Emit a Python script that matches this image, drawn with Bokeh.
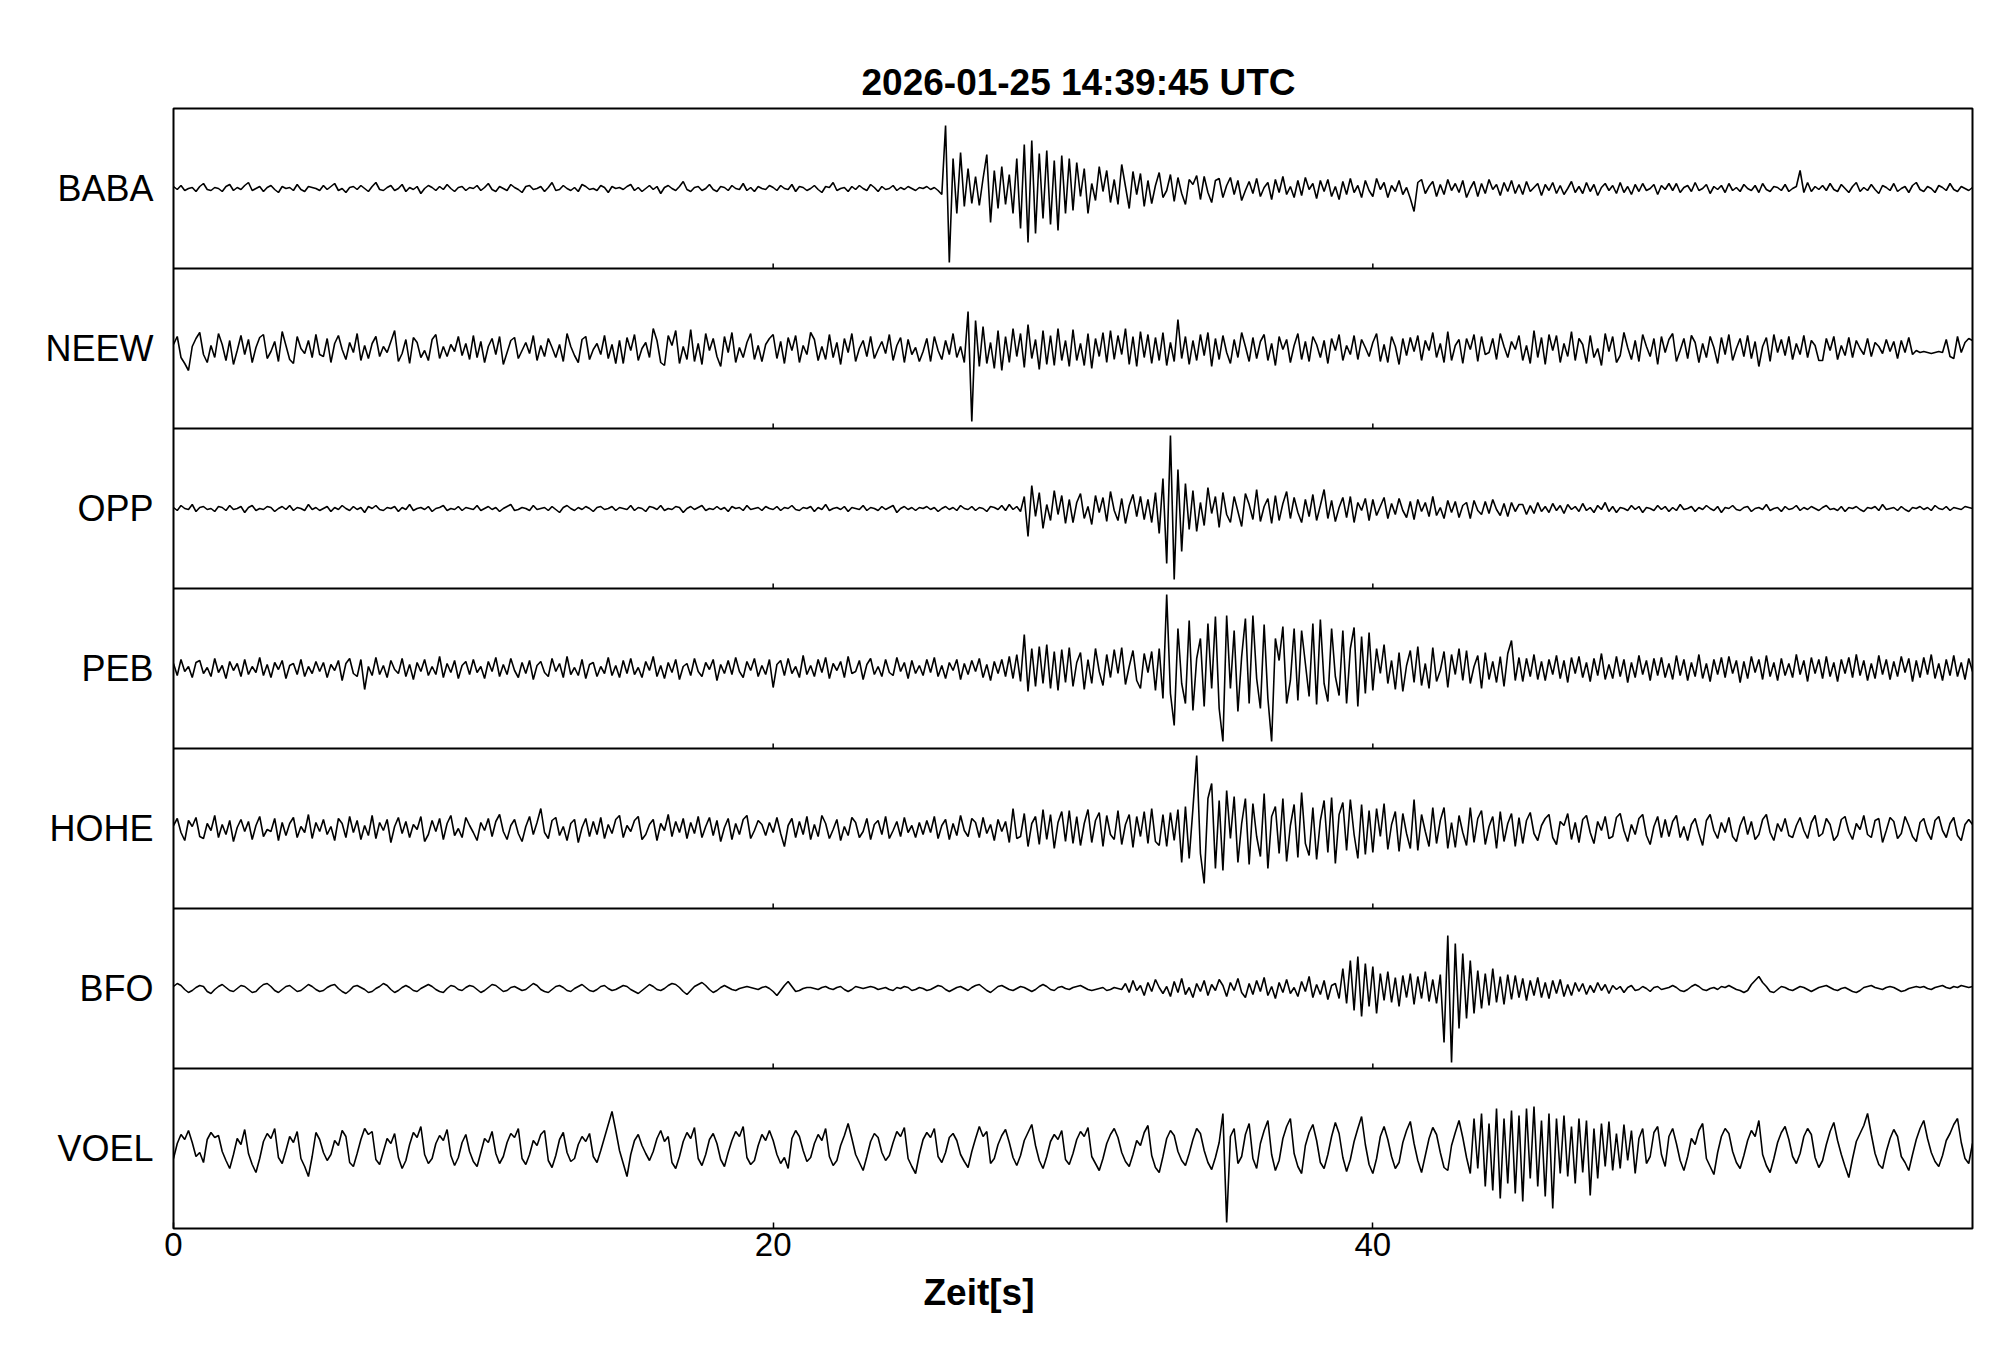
import numpy as np
from bokeh.plotting import figure
from bokeh.models import Range1d, FixedTicker, Span, Title
from bokeh.embed import file_html
from bokeh.resources import INLINE

TITLE = "2026-01-25  14:39:45 UTC"
XLABEL = "Zeit[s]"
STATIONS = ["BABA", "NEEW", "OPP", "PEB", "HOHE", "BFO", "VOEL"]
XTICKS = [0, 20, 40]
T_START, T_END = 0.0, 60.0
AMP_PER_TRACE = 160.0  # amplitude units spanning one trace band

# amplitude samples every 0.125 s (one row = 5 s)
BABA = [
 2,-1,3,-2,0,1,-3,2,5,-1,-2,1,0,-3,2,4,-2,1,-1,3,6,-2,0,2,-3,1,3,-1,-4,2,0,1,-2,4,-1,-3,2,1,0,-2,
 3,-1,2,5,-2,0,-4,1,2,-1,3,0,-3,2,6,-1,-2,1,3,-2,0,4,-3,1,-1,2,-5,0,3,1,-2,2,-1,4,0,-3,1,2,-2,1,
 0,3,-2,1,5,-1,-3,2,0,-2,4,1,-1,-4,2,3,-1,0,2,-3,1,6,-2,-1,3,0,-2,1,-3,4,2,-1,0,-2,3,1,-4,2,0,1,
 -1,2,4,-2,1,-3,0,3,-1,2,-5,1,3,0,-2,2,7,-1,-3,1,2,-2,0,4,-1,-3,2,1,-2,3,0,-1,5,-2,1,-3,2,0,-1,3,
 1,-2,3,0,-1,4,-3,2,1,-2,0,3,-1,-4,2,1,6,-2,0,1,-3,2,-1,3,0,-2,4,1,-3,2,-1,0,3,-2,1,-1,2,0,-2,1,
 0,2,-1,1,-2,-6,63,-74,30,-25,36,-18,20,-15,12,-17,10,34,-34,18,-20,22,-16,14,-25,30,-40,44,-54,48,-45,35,-30,38,-36,28,-42,33,-25,30,
 -22,26,-8,20,-25,5,-12,22,-3,18,-14,9,-16,24,2,-20,17,-6,15,-18,8,-15,3,16,-9,-2,14,-13,11,-5,-16,9,4,13,-11,12,-4,-14,8,10,
 -9,3,11,-6,8,-12,-2,7,-5,10,-8,1,6,-11,9,-4,12,-6,2,-9,8,-7,11,-1,5,-10,8,-3,9,-8,2,-11,7,-6,10,-4,3,-9,8,-2,
 -8,10,-1,6,-9,3,-3,8,-6,1,-10,-23,6,9,-5,2,7,-8,4,-6,9,-2,5,-4,8,-9,0,7,-8,5,-5,9,-1,4,-7,6,-3,8,-5,4,
 -6,7,-3,1,5,-7,4,-2,6,-5,3,-6,0,7,-4,2,-5,6,-3,4,-7,1,5,-2,3,-5,6,-4,2,-6,4,-3,5,-2,0,4,-6,3,-1,5,
 -2,5,-4,1,3,-3,6,-2,0,4,-5,2,-1,3,-4,5,-2,1,-3,4,0,-2,3,-4,5,-1,-3,2,1,-2,4,-3,0,2,18,-4,6,-3,2,-1,
 3,-2,5,-1,-3,4,0,-4,2,6,-3,1,-2,4,-1,-5,3,1,-2,5,-3,0,2,-4,3,6,-1,-3,2,0,-4,3,1,-2,5,-1,-3,2,0,-2,
 1]

NEEW = [
 4,12,-9,-15,-22,2,10,16,-6,-14,3,-9,15,4,-12,8,-16,-2,13,-6,9,-14,1,11,14,-10,-3,7,-13,17,3,-11,-15,12,0,-5,8,-9,14,-6,
 -8,10,-14,5,13,-1,-11,6,-4,15,-12,3,-10,5,12,-8,2,-4,7,18,-13,-5,9,-15,11,6,-9,-2,-12,9,14,-10,2,-8,4,-3,12,-7,5,-11,
 13,-9,7,-14,2,10,-6,12,-16,-4,8,11,-10,-2,6,-5,13,-12,3,-8,10,1,-9,4,-13,15,2,-7,-14,9,12,-11,-1,5,-6,13,-10,4,-15,8,
 -15,11,-2,14,-12,0,6,-9,20,8,-14,-17,13,3,18,-15,2,-11,19,-13,5,-16,15,-2,10,-8,-18,12,-4,16,-14,1,-9,6,15,-11,3,-13,4,10,
 14,-10,7,-15,11,-2,13,-14,3,-6,16,9,-12,2,-11,14,-9,6,-16,10,-4,15,-13,0,8,-8,12,-10,-1,7,-5,14,-12,3,11,-14,9,-6,1,-13,
 -3,10,-13,12,-2,-11,8,-6,15,-9,2,-14,37,-73,28,-18,22,-15,6,-20,18,-22,12,-14,20,-8,15,-19,24,-10,9,-21,18,-16,13,-17,20,-12,8,-18,
 19,-12,5,-17,15,-20,10,-8,16,-14,18,-11,13,-6,20,-16,12,-18,17,-9,14,-15,11,-12,16,-17,6,-13,29,-10,12,-16,8,-12,14,-7,16,-18,10,-11,
 13,-4,-15,9,-9,16,2,-13,11,-10,7,14,-12,5,-17,12,-1,9,-14,3,15,-11,7,-13,12,4,-9,8,-15,10,-2,14,-12,3,-6,13,-11,9,1,-8,
 6,15,-13,4,-14,12,2,-16,10,-7,11,-3,13,-12,8,-2,16,-9,5,-14,17,-12,3,9,-15,10,-1,14,-13,12,-6,-4,10,-11,15,2,-9,7,-1,13,
 -12,3,-15,18,-9,11,-16,14,-2,13,-14,5,-8,17,-12,10,4,-15,13,-9,0,-17,15,-3,12,-14,-7,16,1,-11,8,-13,14,2,-8,10,-16,12,-4,9,
 15,-13,-2,10,-10,13,6,-14,5,-9,12,1,-15,11,-6,14,-12,0,10,-8,13,-10,7,-18,2,11,-13,14,-4,9,-7,12,-11,5,-6,13,-9,8,3,-12,
 -12,10,-2,12,-11,3,-7,11,-9,8,0,-6,10,-8,6,2,-5,9,-3,7,-10,8,-4,11,-6,-2,-4,-3,-4,-5,-4,-3,-4,9,-8,-10,12,-4,6,10,
 8]

OPP = [
 1,-2,3,0,-1,4,-3,1,2,-1,0,-3,2,1,-2,3,-1,0,2,-4,1,3,-2,0,-1,2,1,-3,0,2,-1,3,-2,1,0,-2,4,-1,1,-2,
 0,2,-3,1,-1,3,0,-2,2,-1,1,-4,2,0,3,-1,-2,1,0,2,-3,1,-1,4,-2,0,1,-1,2,-3,0,1,3,-2,0,-1,2,-2,1,0,
 -1,3,-2,0,2,-1,1,-3,0,2,4,-2,-1,1,0,-2,3,-1,0,1,-2,2,-1,-4,1,3,0,-2,1,-1,2,0,-3,1,2,-1,0,2,-2,1,
 0,-1,3,-2,1,0,-3,2,1,-1,3,-2,0,-1,2,1,-4,0,2,-1,1,3,-2,0,-1,2,-1,1,-3,2,0,1,-2,3,-1,0,1,-2,2,0,
 -1,2,-2,1,0,3,-1,-2,1,0,2,-3,1,-1,4,-2,0,1,-1,2,-3,1,0,-1,3,-2,1,0,-2,2,-1,1,3,-4,0,2,-1,1,-2,1,
 0,2,-1,1,-3,0,2,-1,1,-2,3,0,-1,2,-2,1,0,-3,2,1,-1,3,-2,4,-1,2,-3,12,-28,23,-8,16,-20,4,-12,18,-6,13,-15,9,
 -14,6,15,-10,2,-16,13,-4,11,-13,17,-2,-12,10,-15,3,14,-8,12,-11,9,-14,16,-25,30,-55,73,-71,39,-43,25,-21,18,-23,6,-17,21,-5,12,-19,
 16,-6,-14,12,-3,-18,15,4,-11,19,-13,2,10,-15,13,-12,5,17,-10,11,-4,-14,9,-8,14,-12,3,19,-10,8,-13,1,11,-9,12,-14,6,-2,10,-12,
 9,-7,2,11,-10,5,-6,10,-2,-9,7,-11,9,-3,6,-8,12,-7,1,-10,8,-4,7,-9,3,6,-10,8,-2,-6,7,-5,9,-1,-7,5,-8,6,-3,4,
 4,-6,3,-5,6,-3,2,-4,5,-2,3,-5,4,-1,2,-3,5,-2,1,-4,3,-1,6,-3,2,-4,1,0,-2,3,-1,2,-4,1,0,-2,3,-1,2,-3,
 1,-2,4,-1,0,2,-3,1,-1,3,0,-2,2,-4,1,0,3,-1,-2,1,2,-3,0,1,-1,4,-2,0,1,-3,2,-1,0,3,-2,1,-1,2,0,-2,
 1,3,-1,0,-2,2,-3,1,0,2,-1,-3,1,0,2,-2,4,-1,0,1,-2,2,-1,-3,1,0,2,-1,1,-2,3,0,-1,2,-2,1,0,-1,2,1,
 0]

PEB = [
 5,-7,9,-3,2,-9,6,8,-5,1,-8,10,-4,3,-10,7,-2,5,-8,9,-6,2,-4,11,-7,4,-9,6,-1,8,-10,3,5,-6,9,-8,2,-5,7,-3,
 6,-9,4,-2,8,-12,5,10,-5,-8,9,-21,2,-7,11,-6,3,-9,8,-1,-5,10,-8,4,-11,6,-3,9,-7,2,-6,12,-9,5,-4,8,-10,3,7,-6,
 9,-4,2,-10,7,-3,11,-8,4,-6,10,-2,-9,6,-5,8,-11,3,7,-4,-8,10,-3,5,-9,12,-6,1,-7,9,-10,4,6,-8,2,-5,11,-7,3,-9,
 8,-5,10,-6,1,-9,7,-2,12,-8,3,-10,6,-4,9,-11,2,5,-7,10,-3,-8,6,-1,9,-12,4,-5,8,-6,11,-3,-9,7,-2,10,-8,3,-6,9,
 -19,4,8,-7,10,-5,2,-9,13,-6,3,-8,9,-4,11,-10,5,-2,7,-9,12,-5,-3,8,-11,4,10,-6,2,-8,9,-4,-7,11,-3,6,-10,8,-5,3,
 -7,9,-4,11,-8,3,-10,6,-2,9,-11,5,-6,8,-3,10,-9,4,-12,7,-5,9,-8,12,-10,14,-13,34,-23,20,-18,22,-15,24,-20,17,-22,19,-14,21,
 -18,6,16,-21,9,-15,20,-3,-17,14,-9,19,-5,21,-16,2,18,-12,-20,15,-4,17,-22,20,-30,74,-25,-57,40,-15,-35,48,-42,10,30,-38,45,-20,52,-40,
 -73,53,-20,38,-43,12,50,-35,53,-10,-40,44,-30,-73,30,8,42,-35,-12,40,-32,38,5,-28,45,-36,49,-15,-33,40,-8,-27,38,-35,20,41,-38,32,-25,36,
 -22,20,-5,24,-15,8,-21,16,-23,3,18,-14,22,-17,5,-20,21,-13,-2,17,-19,14,-6,20,-12,18,-15,2,13,-20,16,-11,7,-14,12,-18,15,28,-12,11,
 -13,10,-8,14,-11,7,-12,9,-6,13,-10,8,-14,11,-5,12,-9,6,-13,10,-7,15,-11,4,-10,12,-8,9,-14,6,-9,13,-6,8,-12,10,-7,11,-9,5,
 -11,13,-7,9,-12,6,-8,14,-10,5,-13,9,-6,11,-9,12,-5,8,-14,7,-10,12,-4,9,-11,13,-8,6,-12,10,-7,5,-9,14,-6,8,-13,11,-5,9,
 -10,12,-8,6,-13,9,-5,11,-9,14,-7,8,-12,5,-10,13,-6,9,-11,7,-8,12,-4,10,-13,8,-9,11,-6,14,-10,5,-12,9,-7,13,-8,6,-11,10,
 -3]

HOHE = [
 3,10,-4,-12,8,2,11,-8,-10,5,-2,13,-9,4,-6,8,-13,1,9,-3,7,-11,3,12,-8,-1,-3,10,-12,6,-7,5,11,-9,2,-4,14,-10,6,-3,
 9,-6,2,-12,10,5,-9,12,-4,8,-11,3,-7,13,-10,6,-2,9,-14,2,11,-5,7,-9,4,-1,12,-13,-6,8,-3,10,-11,5,13,-7,0,-9,11,3,
 -4,-12,6,-2,10,-8,7,14,-3,-11,3,9,-5,-13,2,12,-6,6,20,-4,-10,8,11,-7,2,-12,5,9,-14,1,10,-8,7,-6,11,-10,4,-5,9,13,
 -9,3,-3,8,12,-11,-6,4,9,-12,5,-2,14,-8,7,-4,10,-10,6,-5,12,-9,2,11,-7,8,-13,1,10,-11,5,-6,9,13,-10,-2,8,4,-7,6,
 -4,11,-5,-18,3,10,-9,7,-6,12,-11,4,-8,13,5,-10,-1,9,-12,2,-7,11,6,-9,-3,10,-11,4,8,-6,12,-10,-2,7,-8,11,-4,3,-9,6,
 -6,8,-4,12,-10,3,9,-11,5,-7,13,-2,-8,10,6,-9,11,-5,4,-12,9,-3,7,-14,20,-10,-8,15,-18,5,12,-16,19,-11,14,-20,6,17,-13,18,
 -15,12,-17,5,19,-14,8,16,-18,13,-6,-11,18,-16,4,14,-19,12,-8,17,-15,20,-13,-17,14,-18,16,-12,19,-34,22,-30,20,73,-25,-55,30,45,-40,28,
 -42,38,-10,32,-34,5,30,-36,25,-8,-28,35,-40,12,22,-25,30,-33,3,24,-29,36,-15,-27,21,-31,8,28,-24,31,-35,14,26,-22,29,-6,-30,24,-26,18,
 -24,20,-8,25,-21,4,17,-23,15,-5,-20,29,-22,14,-3,-18,21,-15,8,21,-20,6,-19,13,-4,-17,21,-14,10,18,-16,2,12,-20,17,-13,5,15,-18,11,
 -15,8,16,-5,-12,3,10,14,-9,-16,7,3,15,-11,6,-14,9,13,-4,-15,7,-2,12,-10,-8,11,15,-2,-13,4,-6,10,14,-7,-16,2,12,-9,9,-8,
 7,13,-9,2,-12,4,10,-5,-17,8,14,-2,-10,6,-4,11,-8,-13,3,12,-6,7,-11,-6,9,14,-4,-12,5,-3,10,-7,-9,3,11,-2,-10,6,13,-8,
 -5,10,4,-12,-7,9,12,-3,-11,5,-1,13,-6,-9,8,10,-14,-2,11,7,-10,-5,12,3,-8,-13,6,10,-4,-11,8,12,-2,-9,5,11,-7,-12,4,9,
 4]

BFO = [
 2,5,3,-1,-4,-2,1,3,2,-3,-5,-1,2,4,1,-2,-3,0,3,2,-1,-4,-3,1,4,5,2,-2,-4,-1,2,3,0,-3,-2,1,4,2,-1,-3,
 -2,1,3,4,0,-3,-5,-2,2,3,1,-1,-4,-3,0,2,5,3,-1,-4,-2,1,3,1,-2,-3,0,2,4,2,-1,-3,-4,0,3,2,-1,-2,1,3,
 2,-1,-4,-2,1,4,3,0,-3,-2,1,2,0,-2,-1,2,5,3,-1,-3,-4,-1,2,3,1,-2,-3,0,2,4,1,-2,-3,-1,2,3,0,-2,-1,1,
 3,2,-1,-3,-5,-2,1,4,2,-1,-2,0,3,5,4,1,-3,-6,-2,2,4,6,3,-1,-4,-2,1,3,1,-1,-2,0,1,2,1,0,-1,1,2,0,
 -3,-7,-2,3,7,2,-3,-2,0,1,1,0,-1,1,2,0,-1,1,2,-1,-3,-1,2,1,0,1,2,1,-1,0,1,-1,-2,1,0,2,1,-2,-1,1,
 0,-2,-1,1,3,2,-1,-3,-1,1,2,0,-2,1,3,4,1,-2,-4,-1,2,3,1,-1,-2,0,2,1,-1,-3,-1,2,4,2,-1,-2,1,2,0,-1,
 1,2,3,1,-1,-2,-1,0,1,-2,-1,1,0,-1,5,-4,8,-2,3,-7,6,-3,9,1,-5,2,-8,7,-4,10,-6,1,-9,5,-3,8,-7,4,-2,9,
 3,-8,6,-2,10,-4,-9,5,-6,8,-3,11,-7,2,-10,6,-4,9,-5,1,-8,7,-3,12,-9,4,-6,8,-11,3,5,-10,20,-15,28,-22,32,-28,25,-18,
 22,-25,15,-12,17,-14,11,-18,13,-9,15,-16,12,-10,17,-13,9,-15,14,-54,53,-74,45,-40,35,-30,28,-25,18,-20,15,-17,20,-14,12,-16,14,-11,13,-9,
 10,-12,8,-7,11,-9,6,-10,8,-5,9,-8,4,-7,6,-3,5,-6,3,-4,6,-2,4,-5,3,-1,2,-4,1,3,-2,-1,2,0,-3,1,2,-1,0,1,
 3,1,-2,-3,-1,2,4,2,-1,-2,0,1,-1,2,1,3,1,-1,-2,-4,-2,4,8,12,6,2,-3,-4,-1,2,1,-1,-2,0,2,1,-1,-3,-1,1,
 2,3,1,-1,-2,0,1,-1,-3,-4,-2,1,2,3,1,0,-1,1,2,1,-1,-3,-2,0,1,2,1,2,0,-1,1,2,3,1,0,2,1,3,2,1,
 2]

VOEL = [
 -10,5,14,9,18,6,-8,-4,-14,9,16,11,13,-3,-12,-20,-6,10,4,19,-5,-16,-24,-10,7,15,10,20,-9,-15,-2,12,6,17,-10,-18,-28,-8,16,9,
 -4,-12,-6,8,3,18,12,-14,-18,-5,9,20,14,17,-11,-16,-3,10,5,15,-9,-20,-12,4,16,11,22,-6,-15,-10,5,13,8,19,-7,-17,-9,6,14,-3,
 -13,-18,-4,10,6,17,-5,-15,-8,6,15,11,20,-10,-16,-6,8,3,14,18,-12,-19,-7,9,16,-4,-13,-10,4,12,7,15,-8,-14,-2,11,24,37,18,-2,
 -15,-28,-6,8,14,3,-5,-12,-3,10,18,7,12,-14,-20,-8,7,16,10,21,-10,-17,-6,9,15,5,-11,-18,-4,8,17,12,22,-9,-16,-12,3,14,8,18,
 8,-6,-15,-9,-20,10,18,12,-2,-13,-9,5,14,8,20,-8,-17,-12,3,13,25,10,-6,-14,-22,-8,7,15,11,-4,-12,-7,6,17,12,21,-10,-18,-25,-6,
 9,16,11,20,-8,-14,-4,11,15,8,-6,-13,-19,-3,10,22,12,17,-15,-10,4,13,19,6,-9,-17,-7,8,16,24,3,-12,-20,-8,7,14,9,18,-11,-16,
 -5,9,17,12,21,-8,-15,-22,-10,5,14,20,11,-4,-13,-18,-6,8,3,16,23,-7,-19,-24,-8,10,18,13,-3,-12,-17,-5,9,20,15,-2,-14,-21,-9,6,
 35,-74,12,20,-15,-8,14,25,-10,-20,5,18,28,-6,-22,-12,10,22,30,-5,-18,-25,3,16,24,8,-14,-20,-6,12,26,15,-9,-23,-11,7,20,32,4,-16,
 -25,-10,12,22,9,-8,-20,-14,6,18,27,5,-12,-24,-7,10,21,14,-4,-19,-22,3,16,28,11,-9,-25,30,-20,35,-38,25,-42,40,-50,30,-35,38,-45,33,
 -53,40,-30,42,-38,28,-48,35,-60,30,-25,33,-28,22,-35,30,-24,28,-47,20,-30,25,-18,27,-22,15,-20,24,-12,18,-25,10,20,-15,-8,16,22,-6,-18,12,
 20,5,-12,-22,-8,10,4,18,25,-10,-18,-26,-4,12,20,15,-3,-14,-20,-7,8,18,12,28,-6,-17,-24,-10,6,16,22,9,-8,-15,-5,12,20,14,-9,-19,
 -12,4,17,26,8,-6,-18,-29,-10,7,15,23,35,14,-5,-16,-20,-3,10,19,12,-8,-14,-22,-6,9,20,28,10,-4,-13,-18,-7,8,15,24,30,6,-10,-15,
 5]

TRACES = [BABA, NEEW, OPP, PEB, HOHE, BFO, VOEL]

n = len(STATIONS)
FONT = "Liberation Sans"

p = figure(
    x_range=Range1d(T_START, T_END), y_range=Range1d(0, n),
    frame_width=1799, frame_height=1120,
    min_border_left=173, min_border_right=25, min_border_top=108, min_border_bottom=126,
    output_backend="svg", toolbar_location=None,
    background_fill_color="white", border_fill_color="white",
)
p.outline_line_color = "black"
p.outline_line_width = 2
p.xgrid.visible = False
p.ygrid.visible = False

# title
p.title.text = TITLE
p.title.align = "left"
p.title.offset = 688
p.title.text_font = FONT
p.title.text_font_size = "37px"
p.title.text_font_style = "bold"
p.title.text_color = "black"
p.title.standoff = 12

# x axis
xa = p.xaxis[0]
xa.ticker = FixedTicker(ticks=XTICKS)
xa.axis_line_color = None
xa.major_tick_in = 6
xa.major_tick_out = 0
xa.major_tick_line_width = 1.5
xa.minor_tick_line_color = None
xa.major_label_text_font = FONT
xa.major_label_text_font_size = "33px"
xa.major_label_text_color = "black"
xa.major_label_standoff = 4

# x label placed left of the frame centre, as in the reference
xl = Title(text=XLABEL, align="left", offset=750, text_font=FONT,
           text_font_size="37px", text_font_style="bold", text_color="black", standoff=22)
p.add_layout(xl, "below")

# y axis: station names
centers = [n - 1 - i + 0.5 for i in range(n)]
ya = p.yaxis[0]
ya.ticker = FixedTicker(ticks=centers)
ya.major_label_overrides = {c: s for c, s in zip(centers, STATIONS)}
ya.axis_line_color = None
ya.major_tick_in = 0
ya.major_tick_out = 0
ya.minor_tick_line_color = None
ya.major_label_text_font = FONT
ya.major_label_text_font_size = "36px"
ya.major_label_text_color = "black"
ya.major_label_standoff = 20

# panel separators and their small inward ticks
for b in range(1, n):
    p.add_layout(Span(location=b, dimension="width", line_color="black", line_width=2))
tick_len = 5.0 / AMP_PER_TRACE
tx = [t for t in XTICKS if T_START < t < T_END]
x0s, y0s = [], []
for b in range(1, n):
    for t in tx:
        x0s.append(t)
        y0s.append(b)
p.segment(x0=x0s, y0=y0s, x1=x0s, y1=[y + tick_len for y in y0s],
          line_color="black", line_width=1.5)

# traces
for c, vals in zip(centers, TRACES):
    v = np.asarray(vals, dtype=float)
    t = np.linspace(T_START, T_END, len(v))
    p.line(t, c + v / AMP_PER_TRACE, line_color="black", line_width=1.6)

open("out.html", "w").write(file_html(p, INLINE))
